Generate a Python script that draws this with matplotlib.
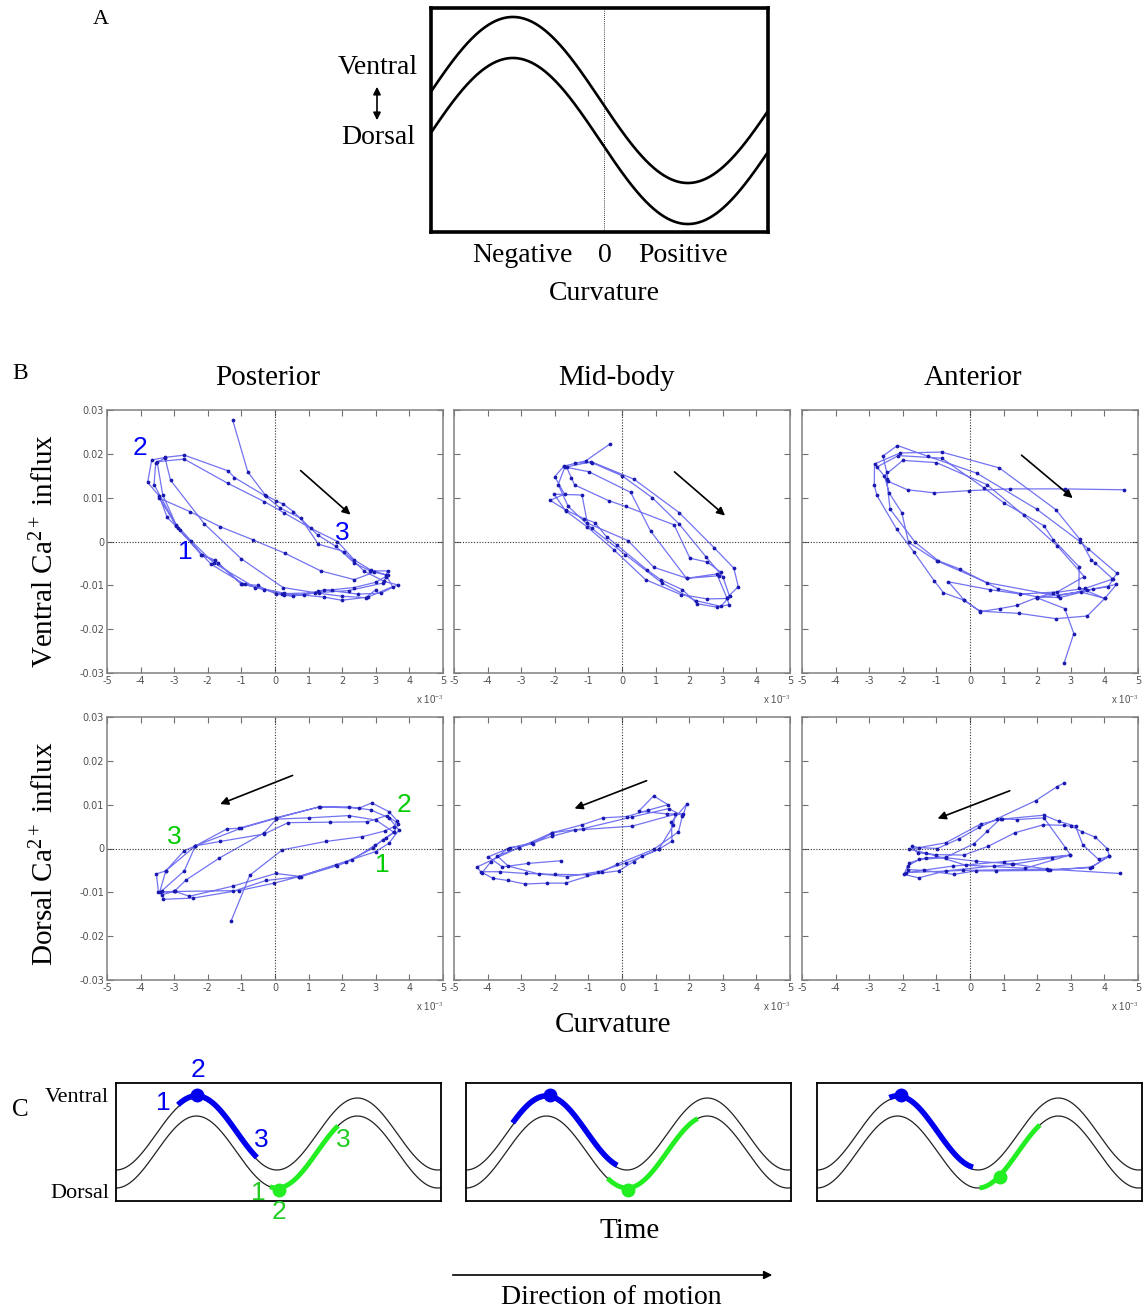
import numpy as np
import matplotlib
matplotlib.use('Agg')
import matplotlib.pyplot as plt
from matplotlib.patches import FancyArrowPatch

SERIF = 'Liberation Serif'
SANS = 'Liberation Sans'
plt.rcParams['mathtext.fontset'] = 'custom'
plt.rcParams['mathtext.rm'] = SERIF
plt.rcParams['mathtext.it'] = SERIF + ':italic'

# ---------------- data (curvature in units of 1e-3, Ca2+ influx raw) ----------------
# posterior, ventral
pv_x = [-1.26, -0.81, -0.29, 0.03, 0.25, 0.55, 1.27, 1.81, 2.36, 2.83, 3.35, 3.30, 3.00, 2.36, 1.71, 1.27, 0.53, 0.03,
        -0.52, -0.99, -1.80, -2.20, -2.84, -3.21, -3.44, -3.79, -3.67, -3.27, -2.70, -1.39, -1.21, -0.27, 0.16, 0.77,
        1.29, 2.06, 2.66, 3.25, 3.65, 3.15, 2.46, 1.47, 0.87, 0.28, -0.32, -0.59, -1.82, -2.50, -2.94, -3.34, -3.51,
        -2.70, -1.41, -0.32, 0.28, 1.07, 1.86, 2.36, 2.85, 3.30, 3.50, 2.76, 1.99, 1.47, 0.28, -1.01, -1.70, -2.17,
        -2.94, -3.44, -2.53, -1.64, -0.66, 0.30, 1.36, 2.36, 2.95, 3.35, 3.20, 2.20, 1.20, 0.20, -0.90, -1.90, -2.90,
        -3.60, -3.55, -3.27, -3.11, -2.10, -1.01, 0.24, 1.30, 2.00, 2.70, 3.00]
pv_y = [0.0277, 0.0159, 0.0106, 0.0093, 0.0085, 0.0068, 0.0015, -0.0011, -0.0049, -0.0067, -0.0067, -0.0080, -0.0093,
        -0.0105, -0.0110, -0.0114, -0.0125, -0.0120, -0.0100, -0.0097, -0.0042, -0.0030, 0.0027, 0.0055, 0.0103, 0.0135,
        0.0186, 0.0192, 0.0197, 0.0161, 0.0146, 0.0103, 0.0076, 0.0053, -0.0006, -0.0023, -0.0068, -0.0091, -0.0099,
        -0.0118, -0.0120, -0.0110, -0.0123, -0.0121, -0.0110, -0.0105, -0.0049, 0.0002, 0.0038, 0.0106, 0.0182, 0.0188,
        0.0133, 0.0091, 0.0065, 0.0030, 0.0000, -0.0042, -0.0065, -0.0076, -0.0103, -0.0127, -0.0134, -0.0127, -0.0118,
        -0.0097, -0.0049, -0.0030, 0.0036, 0.0099, 0.0068, 0.0034, 0.0004, -0.0027, -0.0067, -0.0087, -0.0070, -0.0077,
        -0.0095, -0.0112, -0.0117, -0.0119, -0.0098, -0.0052, 0.0030, 0.0130, 0.0180, 0.0190, 0.0140, 0.0040, -0.0039,
        -0.0105, -0.0118, -0.0125, -0.0128, -0.0110]

# mid-body, ventral
mv_x = [-0.37, -1.08, -1.73, -2.00, -1.71, -2.14, -1.68, -1.13, -0.81, -0.46, -0.14, 0.75, 1.15, 1.80, 2.24, 2.84, 3.18,
        3.13, 3.46, 3.33, 2.74, 1.70, 0.36, -0.91, -1.65, -1.51, -1.41, -0.39, 0.11, 1.55, 2.02, 2.54, 2.94, 2.90, 1.94,
        0.95, 0.18, -1.03, -1.19, -2.02, -1.68, -1.03, -0.24, 0.70, 1.75, 2.54, 3.13, 2.82, 1.92, 0.85, 0.26, -0.98,
        -1.70, -1.90, -1.60, -0.90, 0.10, 1.20, 2.20, 2.95, 3.20, 3.00, 2.50, 1.70, 0.90, 0.00, -0.90, -1.40]
mv_y = [0.0222, 0.0184, 0.0172, 0.0148, 0.0108, 0.0094, 0.0072, 0.0052, 0.0043, 0.0011, -0.0009, -0.0065, -0.0087,
        -0.0110, -0.0142, -0.0150, -0.0144, -0.0128, -0.0103, -0.0061, -0.0014, 0.0066, 0.0142, 0.0182, 0.0170, 0.0146,
        0.0129, 0.0093, 0.0080, 0.0038, -0.0038, -0.0047, -0.0070, -0.0078, -0.0084, -0.0059, 0.0002, 0.0042, 0.0106,
        0.0108, 0.0070, 0.0033, -0.0019, -0.0087, -0.0121, -0.0131, -0.0130, -0.0074, -0.0084, 0.0024, 0.0112, 0.0159,
        0.0170, 0.0130, 0.0080, 0.0030, -0.0030, -0.0095, -0.0135, -0.0148, -0.0125, -0.0080, -0.0035, 0.0040, 0.0100,
        0.0150, 0.0180, 0.0180]

# anterior, ventral
av_x = [4.57, 2.82, 1.19, -0.03, -1.06, -1.86, -2.43, -2.48, -2.59, -2.16, -1.24, 0.20, 1.98, 3.27, 3.51, 4.38, 4.24,
        3.42, 2.48, 1.98, 1.39, 0.89, 0.30, -0.17, -0.79, -1.07, -1.66, -2.18, -2.77, -2.85, -2.84, -2.08, -0.84, 0.87,
        2.55, 3.27, 3.61, 3.71, 4.26, 4.11, 3.66, 2.67, 1.98, 0.84, -0.30, -0.94, -1.63, -2.38, -2.48, -2.77, -2.13,
        -0.84, 0.42, 1.01, 2.20, 2.48, 3.25, 3.24, 4.01, 4.36, 3.47, 2.62, 0.51, -0.99, -1.83, -2.03, -2.40, -2.55,
        -2.00, -1.00, 0.50, 1.60, 2.60, 3.40, 2.60, 1.50, 0.60, -0.64, -0.17, 0.30, 1.47, 2.55, 3.49, 4.01, 3.30, 1.98,
        2.82, 3.09, 2.80]
av_y = [0.0118, 0.0120, 0.0120, 0.0116, 0.0111, 0.0118, 0.0137, 0.0158, 0.0195, 0.0219, 0.0194, 0.0156, 0.0074, 0.0000,
        -0.0016, -0.0073, -0.0086, -0.0107, -0.0117, -0.0128, -0.0146, -0.0153, -0.0160, -0.0134, -0.0117, -0.0089,
        -0.0025, 0.0028, 0.0105, 0.0129, 0.0177, 0.0202, 0.0204, 0.0168, 0.0073, 0.0005, -0.0042, -0.0048, -0.0086,
        -0.0103, -0.0109, -0.0128, -0.0126, -0.0108, -0.0063, -0.0044, -0.0002, 0.0074, 0.0143, 0.0170, 0.0196, 0.0190,
        0.0122, 0.0088, 0.0036, 0.0004, -0.0058, -0.0105, -0.0130, -0.0098, -0.0111, -0.0124, -0.0094, -0.0044, -0.0002,
        0.0066, 0.0110, 0.0150, 0.0185, 0.0180, 0.0130, 0.0060, -0.0010, -0.0080, -0.0115, -0.0120, -0.0110, -0.0092,
        -0.0134, -0.0159, -0.0164, -0.0176, -0.0170, -0.0130, -0.0115, -0.0128, -0.0153, -0.0210, -0.0277]

# posterior, dorsal
pd_x = [-1.31, -0.75, 0.22, 1.51, 2.60, 3.27, 3.54, 3.64, 3.39, 2.88, 2.50, 1.33, 0.02, -1.07, -1.42, -2.37, -2.70, -3.25,
        -3.53, -3.47, -2.97, -2.55, -1.26, 0.02, 0.78, 1.86, 2.30, 2.98, 3.30, 3.54, 3.67, 3.32, 2.75, 1.63, 0.39, -0.32,
        -1.64, -2.37, -2.70, -3.36, -3.33, -2.43, -1.26, -0.27, 0.72, 1.81, 3.00, 3.39, 3.69, 3.39, 2.85, 2.20, 1.31,
        0.04, -1.02, -2.37, -3.25, -3.43, -2.97, -1.07, -0.02, 0.72, 2.11, 2.93, 3.20, 3.54, 3.00, 2.19, 1.02, 0.04,
        -0.32, -1.66, -2.65, -3.00, -3.35]
pd_y = [-0.0166, -0.0061, -0.0003, 0.0016, 0.0027, 0.0040, 0.0050, 0.0063, 0.0084, 0.0104, 0.0092, 0.0095, 0.0070,
        0.0046, 0.0045, 0.0006, -0.0005, -0.0051, -0.0058, -0.0099, -0.0098, -0.0109, -0.0086, -0.0057, -0.0064, -0.0039,
        -0.0026, 0.0008, 0.0023, 0.0037, 0.0057, 0.0075, 0.0061, 0.0060, 0.0059, 0.0033, 0.0016, 0.0006, -0.0051, -0.0096,
        -0.0116, -0.0113, -0.0098, -0.0073, -0.0064, -0.0037, -0.0007, 0.0012, 0.0042, 0.0070, 0.0088, 0.0095, 0.0095,
        0.0069, 0.0046, 0.0006, -0.0051, -0.0099, -0.0098, -0.0096, -0.0079, -0.0064, -0.0031, 0.0001, 0.0020, 0.0037,
        0.0065, 0.0075, 0.0070, 0.0067, 0.0036, -0.0022, -0.0072, -0.0098, -0.0105]

# mid-body, dorsal
md_x = [-1.83, -2.79, -3.56, -3.98, -3.32, -2.65, -2.08, -1.19, -0.56, 0.15, 0.76, 1.37, 0.94, 0.50, 1.34, 1.83, 1.93,
        1.47, 1.49, 1.09, 0.61, 0.35, -0.10, -1.04, -2.00, -2.87, -3.63, -4.21, -4.31, -3.07, -2.08, -1.39, 0.30, 1.58,
        1.53, 1.09, 0.13, -0.71, -1.63, -2.48, -3.39, -3.71, -3.07, -2.08, -1.17, 0.30, 1.39, 1.80, 1.68, 0.94, -0.15,
        -0.59, -1.68, -2.23, -2.89, -3.39, -3.84, -4.16, -3.90, -3.40, -2.67, -2.08]
md_y = [-0.0028, -0.0034, -0.0042, -0.0019, 0.0002, 0.0011, 0.0036, 0.0054, 0.0070, 0.0073, 0.0087, 0.0100, 0.0120,
        0.0085, 0.0079, 0.0079, 0.0102, 0.0060, 0.0017, -0.0002, -0.0017, -0.0030, -0.0051, -0.0060, -0.0059, -0.0057,
        -0.0053, -0.0053, -0.0042, 0.0002, 0.0028, 0.0042, 0.0051, 0.0078, 0.0053, -0.0002, -0.0033, -0.0053, -0.0064,
        -0.0058, -0.0040, -0.0017, 0.0002, 0.0036, 0.0045, 0.0072, 0.0091, 0.0075, 0.0038, -0.0002, -0.0036, -0.0053,
        -0.0079, -0.0079, -0.0081, -0.0073, -0.0068, -0.0055, -0.0030, 0.0000, 0.0013, 0.0034]

# anterior, dorsal
ad_x = [2.79, 2.59, 1.95, 0.81, 0.27, -0.33, -0.97, -1.51, -1.73, -1.56, -1.00, -0.18, 0.54, 1.34, 2.18, 2.79, 3.01,
        3.34, 3.73, 4.08, 4.15, 3.58, 2.37, 1.26, 0.17, -0.72, -1.51, -1.86, -1.96, -1.53, -0.72, 0.71, 1.28, 2.45, 2.99,
        2.84, 2.20, 1.39, 0.91, 0.51, 0.12, -0.72, -1.32, -1.81, -1.86, -1.37, -0.48, 0.17, 0.76, 2.33, 3.63, 4.15, 3.83,
        3.36, 3.14, 2.64, 2.20, 0.94, 0.32, -0.72, -1.81, -1.32, -0.13, 1.65, 2.97, 1.00, -0.50, -1.90, -0.20, 2.30, 4.45]
ad_y = [0.0149, 0.0141, 0.0109, 0.0068, 0.0048, 0.0022, 0.0000, 0.0002, 0.0005, -0.0010, -0.0014, -0.0015, 0.0005, 0.0036,
        0.0054, 0.0053, 0.0051, 0.0038, 0.0026, 0.0000, -0.0017, -0.0044, -0.0048, -0.0035, -0.0029, -0.0021, -0.0025,
        -0.0040, -0.0059, -0.0067, -0.0051, -0.0040, -0.0036, -0.0021, -0.0015, 0.0002, 0.0070, 0.0066, 0.0068, 0.0039,
        0.0011, -0.0020, -0.0021, -0.0033, -0.0048, -0.0050, -0.0059, -0.0051, -0.0051, -0.0050, -0.0042, -0.0017, -0.0025,
        0.0008, 0.0051, 0.0062, 0.0076, 0.0067, 0.0056, 0.0013, -0.0002, -0.0010, -0.0038, -0.0045, -0.0015, -0.0030,
        -0.0040, -0.0055, -0.0050, -0.0047, -0.0057]

col_titles = ['Posterior', 'Mid-body', 'Anterior']
x_ticks = [-5, -4, -3, -2, -1, 0, 1, 2, 3, 4, 5]
y_ticks = [-0.03, -0.02, -0.01, 0, 0.01, 0.02, 0.03]
y_tick_labels = ['-0.03', '-0.02', '-0.01', '0', '0.01', '0.02', '0.03']

# arrows in B: (x0, y0, x1, y1)
b_arrows = [[(0.70, 0.0166, 2.31, 0.0057), (1.50, 0.0163, 3.13, 0.0055), (1.47, 0.0201, 3.12, 0.0095)],
            [(0.60, 0.0169, -1.71, 0.0099), (0.81, 0.0157, -1.49, 0.0089), (1.26, 0.0134, -1.04, 0.0066)]]

# phase labels in B posterior panels
pv_lab = [('2', -4.03, 0.0213), ('1', -2.67, -0.0023), ('3', 2.01, 0.0019)]
pd_lab = [('2', 3.84, 0.0099), ('3', -3.00, 0.0027), ('1', 3.20, -0.0037)]

# panel C: phase (in wavelengths) of coloured stretches
c_blue_start = [0.385, 0.29, 0.45]
c_blue_end = [0.876, 0.94, 0.97]
c_blue_dot = [0.503, 0.52, 0.52]
c_green_start = [0.957, 0.88, 1.01]
c_green_end = [1.38, 1.44, 1.385]
c_green_dot = [1.01, 1.006, 1.14]

# ---------------- figure ----------------
W, H = 1145, 1311
fig = plt.figure(figsize=(W / 100, H / 100), dpi=100)


def box(l, t, r, b):
    return fig.add_axes([l / W, 1 - b / H, (r - l) / W, (b - t) / H])


def ftxt(x, y, s, **kw):
    fig.text(x / W, 1 - y / H, s, **kw)


def farrow(x0, y0, x1, y1, style, ms):
    fig.add_artist(FancyArrowPatch((x0 / W, 1 - y0 / H), (x1 / W, 1 - y1 / H), transform=fig.transFigure,
                                   arrowstyle=style, mutation_scale=ms, color='k', lw=1.2))


# ---- A ----
a_peak, a_gap, a_width = 0.234, 0.494, 0.963
axA = box(431, 8, 768, 232)
xa = np.linspace(0, a_width, 400)
axA.plot(xa, np.cos(2 * np.pi * (xa - a_peak)), color='k', lw=1.9)
axA.plot(xa, np.cos(2 * np.pi * (xa - a_peak)) - a_gap, color='k', lw=1.9)
axA.axvline(0.494, color='k', lw=0.6, ls=(0, (1, 1.5)))
axA.set_xlim(0, a_width)
axA.set_ylim(-1.59, 1.108)
axA.set_xticks([])
axA.set_yticks([])
for s in axA.spines.values():
    s.set_linewidth(2.6)

ftxt(101, 20, 'A', family=SERIF, fontsize=16, ha='center', va='center')
ftxt(378, 67, 'Ventral', family=SERIF, fontsize=20, ha='center', va='center')
ftxt(378, 137, 'Dorsal', family=SERIF, fontsize=20, ha='center', va='center')
farrow(377, 84, 377, 123, '<|-|>', 11)
ftxt(522, 255, 'Negative', family=SERIF, fontsize=20, ha='center', va='center')
ftxt(605, 255, '0', family=SERIF, fontsize=20, ha='center', va='center')
ftxt(683, 255, 'Positive', family=SERIF, fontsize=20, ha='center', va='center')
ftxt(604, 293, 'Curvature', family=SERIF, fontsize=20, ha='center', va='center')

# ---- B ----
ftxt(20, 373, 'B', family=SERIF, fontsize=17, ha='center', va='center')
for cx, t in zip([268, 617, 973], col_titles):
    ftxt(cx, 378, t, family=SERIF, fontsize=21, ha='center', va='center')

data = [[(pv_x, pv_y), (mv_x, mv_y), (av_x, av_y)],
        [(pd_x, pd_y), (md_x, md_y), (ad_x, ad_y)]]
lefts = [107, 454, 802]
tops = [410, 717]
bax = [[None] * 3, [None] * 3]
for r in range(2):
    for c in range(3):
        ax = box(lefts[c], tops[r], lefts[c] + 336, tops[r] + 263)
        bax[r][c] = ax
        xs, ys = data[r][c]
        ax.plot(xs, ys, color='#5a5af0', lw=0.9, alpha=0.85)
        ax.plot(xs, ys, ls='none', marker='o', ms=1.7, color='#1a1ab0')
        ax.axhline(0, color='#333333', lw=0.8, ls=(0, (1, 1.5)))
        ax.axvline(0, color='#333333', lw=0.8, ls=(0, (1, 1.5)))
        ax.set_xlim(-5, 5)
        ax.set_ylim(-0.03, 0.03)
        ax.set_xticks(x_ticks)
        ax.set_xticklabels([str(v) for v in x_ticks])
        ax.set_yticks(y_ticks)
        ax.set_yticklabels(y_tick_labels)
        ax.tick_params(direction='in', top=True, right=True, length=4, width=0.8, color='#707070',
                       labelsize=7, labelcolor='#505050', pad=2, labelleft=(c == 0))
        for s in ax.spines.values():
            s.set_color('#808080')
            s.set_linewidth(1.1)
        ax.text(1.0, -0.078, r'x 10$^{-3}$', transform=ax.transAxes, ha='right', va='top',
                fontsize=7, color='#505050', family=SANS)
        x0, y0, x1, y1 = b_arrows[r][c]
        ax.annotate('', xy=(x1, y1), xytext=(x0, y0),
                    arrowprops=dict(arrowstyle='-|>', color='k', lw=1.2, mutation_scale=12))

for s, x, y in pv_lab:
    bax[0][0].text(x, y, s, color='#0000ff', fontsize=19, family=SANS, ha='center', va='center')
for s, x, y in pd_lab:
    bax[1][0].text(x, y, s, color='#00cc00', fontsize=19, family=SANS, ha='center', va='center')

ftxt(45, 551, 'Ventral Ca$^{2+}$ influx', family=SERIF, fontsize=21, ha='center', va='center', rotation=90)
ftxt(45, 854, 'Dorsal Ca$^{2+}$ influx', family=SERIF, fontsize=21, ha='center', va='center', rotation=90)
ftxt(613, 1025, 'Curvature', family=SERIF, fontsize=21, ha='center', va='center')

# ---- C ----
c_width = 2.02
c_gap = 0.5
ftxt(20, 1110, 'C', family=SERIF, fontsize=18, ha='center', va='center')
ftxt(77, 1097, 'Ventral', family=SERIF, fontsize=16, ha='center', va='center')
ftxt(80, 1193, 'Dorsal', family=SERIF, fontsize=16, ha='center', va='center')
xc = np.linspace(0, c_width, 500)
for i, l in enumerate([116, 466, 817]):
    ax = box(l, 1083, l + 325, 1201)
    ax.plot(xc, -np.cos(2 * np.pi * xc), color='#222222', lw=0.9)
    ax.plot(xc, -np.cos(2 * np.pi * xc) - c_gap, color='#222222', lw=0.9)
    xb = np.linspace(c_blue_start[i], c_blue_end[i], 80)
    ax.plot(xb, -np.cos(2 * np.pi * xb) + 0.06, color='#0000ee', lw=4.0, solid_capstyle='butt')
    ax.plot([c_blue_dot[i]], [-np.cos(2 * np.pi * c_blue_dot[i]) + 0.08], 'o', color='#0000ee', ms=9)
    xg = np.linspace(c_green_start[i], c_green_end[i], 80)
    ax.plot(xg, -np.cos(2 * np.pi * xg) - c_gap, color='#22ee22', lw=3.5, solid_capstyle='butt')
    ax.plot([c_green_dot[i]], [-np.cos(2 * np.pi * c_green_dot[i]) - c_gap - 0.05], 'o', color='#22ee22', ms=9)
    ax.set_xlim(0, c_width)
    ax.set_ylim(-1.861, 1.417)
    ax.set_xticks([])
    ax.set_yticks([])
    for s in ax.spines.values():
        s.set_linewidth(1.3)

for s, x, y, col in [('1', 163, 1103, '#0000ee'), ('2', 198, 1070, '#0000ee'), ('3', 261, 1140, '#0000ee'),
                     ('1', 258, 1193, '#22cc22'), ('2', 279, 1212, '#22cc22'), ('3', 343, 1140, '#22cc22')]:
    ftxt(x, y, s, color=col, fontsize=19, family=SANS, ha='center', va='center')

ftxt(630, 1231, 'Time', family=SERIF, fontsize=21, ha='center', va='center')
farrow(450, 1275, 775, 1275, '-|>', 12)
ftxt(611, 1297, 'Direction of motion', family=SERIF, fontsize=20, ha='center', va='center')

fig.savefig('out.png', dpi=100)
